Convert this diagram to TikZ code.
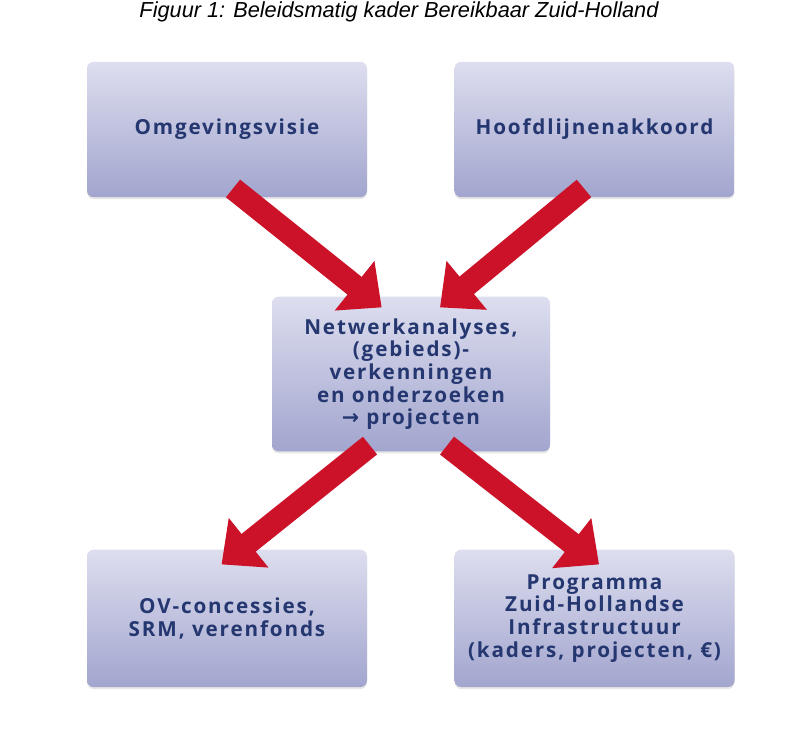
\documentclass[tikz,border=0pt]{standalone}
\usepackage{fontspec}
\setmainfont{Liberation Sans}
\newfontfamily\boxfont[LetterSpace=9]{Open Sans}
\usetikzlibrary{positioning, arrows.meta, shadows}

\definecolor{boxtop}{RGB}{221,222,239}
\definecolor{boxmid}{RGB}{210,211,233}
\definecolor{boxbot}{RGB}{162,165,206}
\definecolor{boxtext}{RGB}{37,55,112}
\definecolor{arrowred}{RGB}{204,18,40}

\begin{document}
\begin{tikzpicture}[x=0.75pt, y=-0.75pt, node distance=65.25pt,
  box/.style={rounded corners=5pt, top color=boxtop, middle color=boxmid,
    bottom color=boxbot, draw=none, align=center, text=boxtext,
    font=\boxfont\bfseries\fontsize{15.5}{17}\selectfont,
    minimum width=210pt, minimum height=101.5pt, inner sep=0pt,
    drop shadow={opacity=0.2, shadow xshift=0pt, shadow yshift=-1.5pt}},
  redarrow/.style={draw=arrowred, line width=17pt,
    -{Triangle[length=26pt, width=46pt]}}]

\useasboundingbox (0,0) rectangle (797,729);

\node[font=\itshape\fontsize{16.3}{19}\selectfont, anchor=base] (titel) at (399,17)
  {Figuur 1: Beleidsmatig kader Bereikbaar Zuid-Holland};

\node[box] (visie) at (227,129.5) {Omgevingsvisie};
\node[box] (akkoord) [right=of visie] {Hoofdlijnenakkoord};
\node[box, minimum width=208.5pt, minimum height=116pt] (netwerk) at (411,374)
  {Netwerkanalyses,\\(gebieds)-\\verkenningen\\en onderzoeken\\{\fontspec{DejaVu Sans}\bfseries →} projecten};
\node[box, minimum height=103pt] (ov) [below=264pt of visie] {OV-concessies,\\SRM, verenfonds};
\node[box, minimum height=103pt] (pzhi) [right=of ov]
  {Programma\\Zuid-Hollandse\\Infrastructuur\\(kaders, projecten, €)};

\draw[redarrow] ([xshift=4.5pt, yshift=6.75pt]visie.south)
  -- ([xshift=-22pt, yshift=-8.25pt]netwerk.north);
\draw[redarrow] ([xshift=-7.9pt, yshift=6.75pt]akkoord.south)
  -- ([xshift=21.75pt, yshift=-8.25pt]netwerk.north);
\draw[redarrow] ([xshift=-30.75pt, yshift=4.5pt]netwerk.south)
  -- ([xshift=-4.1pt, yshift=-11.25pt]ov.north);
\draw[redarrow] ([xshift=27pt, yshift=4.5pt]netwerk.south)
  -- ([xshift=3.4pt, yshift=-11.25pt]pzhi.north);

\end{tikzpicture}
\end{document}
